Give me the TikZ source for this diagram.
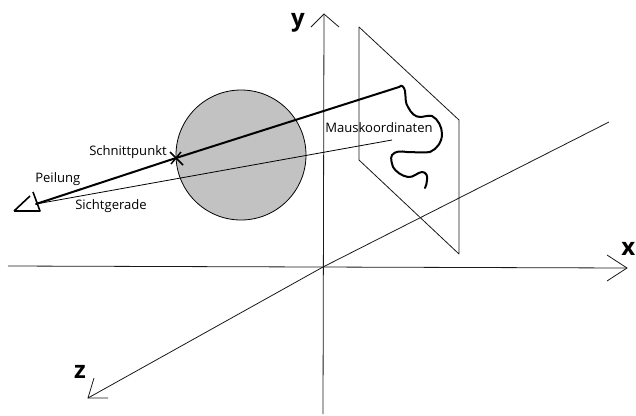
\documentclass[tikz,border=0pt]{standalone}
\usepackage{fontspec}
\setmainfont{Open Sans}
\tikzset{
 thinl/.style={line width=0.6pt,black!90},
 thick1/.style={line width=1.5pt,line cap=round,line join=round},
 lab/.style={inner sep=0pt,font=\fontsize{9.8}{12}\selectfont},
 axl/.style={inner sep=0pt,font=\fontsize{18}{20}\selectfont\bfseries}
}
\begin{document}
\begin{tikzpicture}[x=0.75pt,y=-0.75pt]
\useasboundingbox (0,0) rectangle (636,415);
% coordinates
\coordinate (eye) at (36,204);
\coordinate (cut) at (176,158);
\coordinate (pen) at (399,87);
\coordinate (mk) at (392,140);
\coordinate (O) at (323,267);
\coordinate (yt) at (324,14);
\coordinate (yb) at (323,414);
\coordinate (xl) at (8,266);
\coordinate (xr) at (627,268);
\coordinate (zt) at (88,398);
\coordinate (zr) at (609,122);
% sphere
\node[circle,draw,line width=0.6pt,fill=black!24,minimum size=97.5pt,inner sep=0pt] (sphere) at (241,155) {};
% plane
\draw[thinl,line join=round] (359,27) -- (459,120) -- (459,254) -- (359,160) -- cycle;
% axes
\draw[thinl] (yb) -- (yt);
\draw[thinl] (xl) -- (xr);
\draw[thinl] (zt) -- (O) -- (zr);
\draw[thinl] (311,27) -- (yt) -- (339,27);
\draw[thinl] (607,255) -- (xr) -- (607,281);
\draw[thinl] (94,378) -- (zt) -- (108,398);
% rays
\draw[line width=0.6pt] (eye) -- (mk);
\draw[thick1] (eye) -- (cut) -- (pen);
% cross
\draw[line width=1.1pt] (170,152) -- (183,165) (171,164) -- (181,152);
% eye
\draw[line width=1.2pt,line join=round] (14,211) -- (40,211) -- (33,192);
\draw[line width=1.2pt] (14,211) -- (30,196);
% curve
\draw[thick1] (pen) .. controls (402,84) and (404,87) .. (405,91)
 .. controls (406,98) and (405,103) .. (408,107)
 .. controls (411,113) and (415,117) .. (420,117)
 .. controls (424,117) and (428,115) .. (432,116)
 .. controls (438,119) and (442,127) .. (442,134)
 .. controls (442,142) and (437,149) .. (430,152)
 .. controls (422,153) and (414,152) .. (407,152)
 .. controls (401,151) and (395,151) .. (392,155)
 .. controls (390,159) and (392,163) .. (393,167)
 .. controls (396,172) and (402,176) .. (408,177)
 .. controls (413,178) and (418,172) .. (422,172)
 .. controls (426,172) and (428,176) .. (427,180)
 .. controls (427,183) and (426,186) .. (425,188);
% labels
\node[lab,anchor=east] (l1) at (167,152) {Schnittpunkt};
\node[lab,anchor=west] (l2) at (35,179) {Peilung};
\node[lab,anchor=west] (l3) at (75,206) {Sichtgerade};
\node[lab,anchor=west] (l4) at (325,128) {Mauskoordinaten};
\node[axl] (ly) at (298,23) {y};
\node[axl,anchor=east] (lx) at (635.5,249) {x};
\node[axl] (lz) at (80,372) {z};
\end{tikzpicture}
\end{document}
